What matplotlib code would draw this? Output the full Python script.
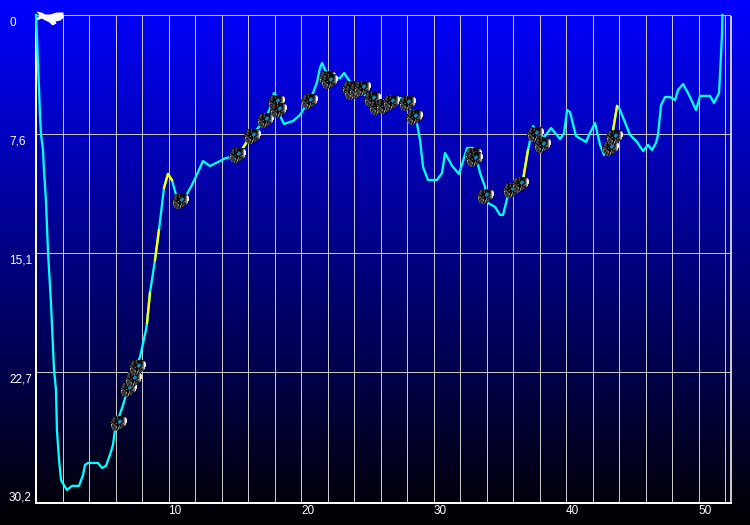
import numpy as np
import matplotlib
matplotlib.use("Agg")
import matplotlib.pyplot as plt
from matplotlib.markers import MarkerStyle
from matplotlib.path import Path
from matplotlib.transforms import ScaledTranslation

plt.rcParams['font.family'] = ['Liberation Sans', 'DejaVu Sans']

# ---------- data ----------
time_min = [0, .08, .15, .23, .30, .38, .53, .60, .75, .91, 1.13, 1.36, 1.51, 1.58, 1.74, 1.89, 1.96, 2.34, 2.72,
            3.25, 3.55, 3.70, 3.92, 4.68, 4.98, 5.28, 5.58, 5.81, 5.96, 6.19, 6.57, 6.79, 7.25, 7.70, 7.85, 8.30,
            8.38, 8.60, 8.98, 9.28, 9.66, 9.96, 10.26, 10.57, 10.87, 11.32, 11.77, 12.23, 12.60, 13.13, 13.74,
            14.34, 14.79, 15.25, 15.62, 16.00, 16.30, 16.75, 17.28, 17.66, 17.96, 18.26, 18.49, 18.72, 19.40,
            19.92, 20.53, 20.91, 21.21, 21.43, 21.59, 21.81, 22.19, 22.94, 23.25, 23.70, 23.92, 24.45, 25.06,
            25.66, 26.34, 27.09, 27.55, 27.85, 28.75, 28.98, 29.21, 29.58, 29.89, 30.26, 30.64, 30.87, 31.40,
            31.92, 32.23, 32.53, 32.98, 33.21, 33.51, 33.89, 34.11, 34.64, 35.02, 35.25, 35.62, 36.15, 36.75,
            37.13, 37.28, 37.51, 37.81, 38.42, 38.87, 39.55, 39.85, 40.08, 40.30, 40.75, 41.51, 41.81, 42.19,
            42.57, 42.87, 43.09, 43.55, 43.85, 44.08, 44.38, 44.83, 45.36, 45.81, 46.19, 46.49, 46.79, 46.94,
            47.17, 47.47, 47.85, 48.23, 48.45, 48.83, 49.28, 49.81, 50.11, 50.87, 51.17, 51.55, 51.62, 51.70,
            51.77, 51.80]
depth_m = [0, 1.59, 3.18, 4.77, 6.36, 7.63, 8.59, 9.86, 11.77, 15.14, 18.32, 22.58, 23.85, 26.40, 28.31, 29.58,
           29.71, 30.22, 29.96, 29.96, 29.26, 28.63, 28.50, 28.50, 28.82, 28.69, 27.99, 27.35, 26.40, 25.76, 24.81,
           24.17, 22.96, 22.07, 21.76, 20.04, 19.59, 17.68, 15.59, 13.68, 11.00, 10.11, 10.50, 11.45, 11.77, 11.51,
           10.81, 9.99, 9.29, 9.61, 9.35, 9.10, 9.03, 8.91, 8.46, 7.95, 7.63, 7.19, 6.68, 5.92, 4.96, 5.28, 6.55,
           6.93, 6.74, 6.36, 5.53, 4.96, 4.26, 3.37, 3.05, 3.50, 4.01, 4.01, 3.69, 4.26, 4.64, 4.90, 5.22, 5.41,
           5.53, 5.34, 5.28, 5.40, 6.88, 7.95, 9.67, 10.50, 10.50, 10.50, 10.05, 8.78, 9.60, 10.11, 9.29, 8.46,
           8.46, 9.00, 10.05, 10.94, 11.96, 12.21, 12.72, 12.72, 11.45, 11.13, 10.50, 8.59, 8.00, 7.06, 7.63,
           7.70, 7.19, 7.89, 7.51, 6.05, 6.17, 7.70, 8.08, 7.50, 6.87, 8.27, 8.91, 8.27, 7.32, 5.79, 6.05, 6.68,
           7.63, 8.08, 8.65, 8.27, 8.59, 8.14, 7.63, 5.73, 5.22, 5.22, 5.41, 4.77, 4.39, 5.09, 6.05, 5.15, 5.15,
           5.60, 4.96, 3.82, 2.54, 1.27, 0]
yellow_spans = [(8.38, 8.60), (8.98, 9.28), (9.66, 10.26), (15.62, 16.00), (36.75, 37.13), (43.55, 43.85)]
photo_time = [6.19, 6.94, 7.32, 7.62, 10.87, 15.17, 16.30, 17.28, 18.11, 18.26, 20.60, 21.96, 22.11, 23.70, 23.85,
              24.23, 24.60, 25.36, 25.74, 26.26, 26.79, 28.00, 28.53, 32.98, 33.06, 33.89, 35.85, 36.53, 37.66,
              38.19, 43.32, 43.62]
photo_depth = [25.95, 23.79, 23.16, 22.39, 11.83, 8.91, 7.70, 6.68, 5.53, 6.04, 5.47, 4.01, 4.20, 4.64, 4.90,
               4.77, 4.64, 5.34, 5.85, 5.79, 5.53, 5.60, 6.49, 8.91, 9.16, 11.51, 11.13, 10.75, 7.57, 8.27, 8.46, 7.76]
x_ticks = list(range(2, 53, 2))
x_labels = [str(v) if v % 10 == 0 else "" for v in x_ticks]
y_ticks = [0, 7.57, 15.13, 22.7, 30.2]
y_labels = ["0", "7,6", "15,1", "22,7", "30,2"]

# ---------- figure ----------
W, H = 750, 525
PX = 0.72
fig = plt.figure(figsize=(W / 100, H / 100), dpi=100, facecolor="black")

bg = fig.add_axes([0, 0, 1, 1], zorder=0)
bg.axis("off")
grad = np.zeros((H, 1, 3))
grad[:, 0, 2] = np.linspace(1, 0, H)
bg.imshow(grad, aspect="auto", interpolation="nearest")

ax = fig.add_axes([36 / W, 1 - 503 / H, (731 - 36) / W, (503 - 15) / H], zorder=1)
ax.patch.set_alpha(0)
ax.set_xlim(0, 52.45)
ax.set_ylim(31.05, 0)

for name, sp in ax.spines.items():
    sp.set_visible(name in ("left", "bottom", "right"))
ax.spines["left"].set_color("white")
ax.spines["left"].set_linewidth(2 * PX)
ax.spines["bottom"].set_color("white")
ax.spines["bottom"].set_linewidth(2 * PX)
ax.spines["right"].set_color("#C8C8C8")
ax.spines["right"].set_linewidth(2 * PX)
ax.spines["right"].set_linestyle((0, (1, 1)))

ax.set_xticks(x_ticks, x_labels)
ax.set_yticks(y_ticks, y_labels)
ax.tick_params(length=0, colors="white", labelsize=8.5)
ax.tick_params(axis="y", pad=27 * PX)
ax.tick_params(axis="x", pad=2 * PX)
ax.grid(True, color="#C8C8C8", linewidth=1 * PX, zorder=1)
ax.yaxis.get_gridlines()[-1].set_visible(False)
ax.set_axisbelow(True)

for lab in ax.get_yticklabels():
    lab.set_ha("left")
    lab.set_transform(lab.get_transform() + ScaledTranslation(0, -6.5 / 100, fig.dpi_scale_trans))
for lab in ax.get_xticklabels():
    lab.set_ha("left")

# dive profile
t = np.array(time_min)
d = np.array(depth_m)
ax.plot(t, d, color="#00FFFF", linewidth=2.3 * PX, antialiased=True, zorder=3, clip_on=False)
for a, b in yellow_spans:
    m = (t >= a) & (t <= b)
    ax.plot(t[m], d[m], color="#FFFF00", linewidth=2.3 * PX, antialiased=True, zorder=4)

# camera marker, built from a small pixel pattern over a dark body
sprite = [
    "...kkkgkkkkkk..",
    "..kgkkkkkkkkgw.",
    ".kkgkkgkkkkkgww",
    ".kgkkkkkbbkkgww",
    ".kkgkkkbbbbkgww",
    "kgkkkkkbbbkkgww",
    "kkgkkgkkbkkggw.",
    "kwkgkkkkkkgkgw.",
    "kgkkgkkkgkkkg..",
    ".gkgkwkkgkgk...",
    ".kgkkgkwkgk....",
    "..gkgkkgk......",
    "....gkg........",
]
palette = {"g": "#808080", "w": "#EDEDED", "b": "#1E86B4"}
body_px = [(-7.5, 1), (-4.5, 6.5), (5.5, 6.5), (7.5, 4), (7.5, -0.5), (4, -3.5), (1, -6), (-3.5, -6.5), (-7, -3), (-7.5, 1)]
frame = Path([(-7.5, -7.5), (-7.5, -7.5), (7.5, 7.5), (7.5, 7.5), (-7.5, -7.5)], closed=True)


def sprite_marker(ch):
    polys = [frame]
    for r, row in enumerate(sprite):
        for c, v in enumerate(row):
            if v == ch:
                x0, y0 = c - 7.5, 6.5 - r
                polys.append(Path([(x0, y0 - 1), (x0 + 1, y0 - 1), (x0 + 1, y0), (x0, y0), (x0, y0 - 1)], closed=True))
    return MarkerStyle(Path.make_compound_path(*polys))


markers = {ch: sprite_marker(ch) for ch in palette}
body_marker = MarkerStyle(Path.make_compound_path(frame, Path(body_px, closed=True)))
side = (17 * PX) ** 2
for i, (pt, pd) in enumerate(zip(photo_time, photo_depth)):
    ax.scatter([pt], [pd], marker=body_marker, s=side, color="#0C0C0C", linewidths=0, zorder=5 + i * 0.01)
    for ch, col in palette.items():
        ax.scatter([pt], [pd], marker=markers[ch], s=side, color=col, linewidths=0, zorder=5 + i * 0.01)

# diver marker anchored on the start of the dive
diver_px = [(0, 4), (5, 3), (9, 1), (14, 1), (20, 3), (27, 3), (27, -2), (24, -5), (19, -6), (20, -8), (16, -10),
            (13, -7), (9, -5), (5, -3), (1, -5), (0, -3), (3, 0), (0, 4)]
diver = MarkerStyle(Path(diver_px, closed=True))
ax.scatter([time_min[0]], [depth_m[0]], marker=diver, s=(54 * PX) ** 2, color="white", linewidths=0,
           zorder=7, clip_on=False)

fig.savefig("out.png", dpi=100, facecolor=fig.get_facecolor())
